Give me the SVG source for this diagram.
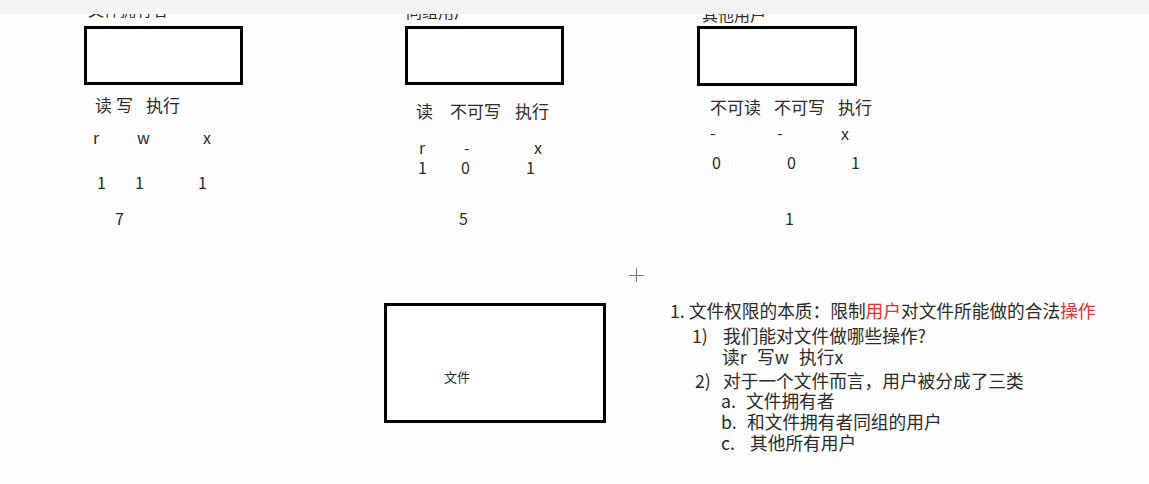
<svg xmlns="http://www.w3.org/2000/svg" width="1149" height="484" viewBox="0 0 1149 484">
<style>
  .t { font-family: "Noto Sans CJK SC", "Liberation Sans", sans-serif; fill: #2b2b2b; }
  .lab { font-size: 17px; }
  .sym { font-size: 16px; }
  .title { font-size: 16px; }
  .note { font-size: 17.7px; }
  .red { fill: #e8302c; }
  .box { fill: #ffffff; stroke: #000000; stroke-width: 3; }
</style>
<rect x="0" y="0" width="1149" height="484" fill="#fdfdfd"/>

<g id="owner">
  <text class="t title" x="88" y="16">文件拥有者</text>
  <rect class="box" x="85.5" y="27.5" width="156" height="56"/>
  <text class="t lab" x="95" y="112">读</text>
  <text class="t lab" x="116" y="112">写</text>
  <text class="t lab" x="146" y="112">执行</text>
  <text class="t sym" x="93" y="144">r</text>
  <text class="t sym" x="137" y="144">w</text>
  <text class="t sym" x="203" y="144">x</text>
  <text class="t sym" x="97" y="189">1</text>
  <text class="t sym" x="135" y="189">1</text>
  <text class="t sym" x="198" y="189">1</text>
  <text class="t sym" x="115" y="225">7</text>
</g>

<g id="group">
  <text class="t title" x="406" y="18">同组用户</text>
  <rect class="box" x="406.5" y="27.5" width="156" height="56"/>
  <text class="t lab" x="416" y="118">读</text>
  <text class="t lab" x="450" y="118">不可写</text>
  <text class="t lab" x="515" y="118">执行</text>
  <text class="t sym" x="419" y="154">r</text>
  <text class="t sym" x="464" y="154">-</text>
  <text class="t sym" x="534" y="154">x</text>
  <text class="t sym" x="418" y="174">1</text>
  <text class="t sym" x="461" y="174">0</text>
  <text class="t sym" x="526" y="174">1</text>
  <text class="t sym" x="459" y="225">5</text>
</g>

<g id="others">
  <text class="t title" x="702" y="21">其他用户</text>
  <rect class="box" x="698.5" y="27.5" width="157" height="57"/>
  <text class="t lab" x="710" y="114">不可读</text>
  <text class="t lab" x="774" y="114">不可写</text>
  <text class="t lab" x="838" y="114">执行</text>
  <text class="t sym" x="710" y="139">-</text>
  <text class="t sym" x="777" y="139">-</text>
  <text class="t sym" x="841" y="140">x</text>
  <text class="t sym" x="712" y="169">0</text>
  <text class="t sym" x="787" y="169">0</text>
  <text class="t sym" x="851" y="169">1</text>
  <text class="t sym" x="785" y="225">1</text>
</g>

<g id="file">
  <rect class="box" x="385.5" y="304.5" width="219" height="117"/>
  <text class="t" font-size="13" x="444" y="382">文件</text>
</g>

<g id="notes">
  <text class="t note" x="670" y="318">1. 文件权限的本质：限制<tspan class="red">用户</tspan>对文件所能做的合法<tspan class="red">操作</tspan></text>
  <text class="t note" x="692" y="343">1)</text>
  <text class="t note" x="723" y="343">我们能对文件做哪些操作?</text>
  <text class="t note" x="722" y="364">读r</text>
  <text class="t note" x="757" y="364">写w</text>
  <text class="t note" x="799" y="364">执行x</text>
  <text class="t note" x="695" y="388">2)</text>
  <text class="t note" x="723" y="388">对于一个文件而言，用户被分成了三类</text>
  <text class="t note" x="721" y="408">a.</text>
  <text class="t note" x="746" y="408">文件拥有者</text>
  <text class="t note" x="721" y="429">b.</text>
  <text class="t note" x="747" y="429">和文件拥有者同组的用户</text>
  <text class="t note" x="721" y="450">c.</text>
  <text class="t note" x="750" y="450">其他所有用户</text>
</g>

<g id="connectors"></g>

<g id="cursor" stroke="#777" stroke-width="1">
  <line x1="636.5" y1="268" x2="636.5" y2="282"/>
  <line x1="629" y1="275.5" x2="644" y2="275.5"/>
</g>

<rect x="0" y="0" width="1149" height="14" fill="#f3f3f3"/>
</svg>
